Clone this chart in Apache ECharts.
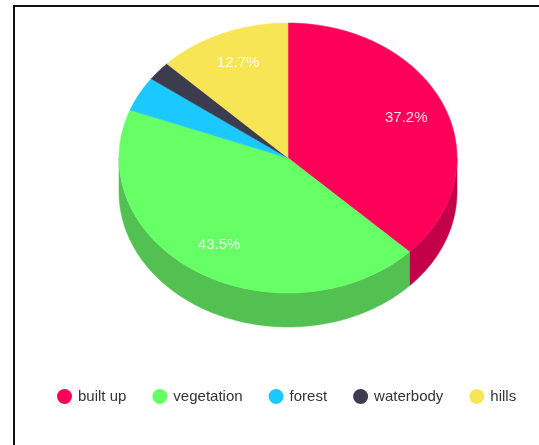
<!DOCTYPE html>
<html>
<head>
<meta charset="utf-8">
<style>html,body{margin:0;padding:0;background:#fff}#c{width:539px;height:445px}</style>
<script src="https://cdn.jsdelivr.net/npm/echarts@6/dist/echarts.min.js"></script>
</head>
<body>
<div id="c"></div>
<script>
const categories = ['built up', 'vegetation', 'forest', 'waterbody', 'hills'];
const shares = [37.2, 43.5, 4.2, 2.3, 12.7];
const labelled = [true, true, false, false, true];
const topColors = ['#FF0059', '#66FF66', '#1BC8FF', '#3D3C4E', '#F8E555'];
const sideColors = ['#C4004A', '#52C152', '#149AC4', '#2E2E3C', '#C0B240'];

const total = shares.reduce((a, b) => a + b, 0);
const CX = 288, CY = 158, RX = 169, RY = 135, DEPTH = 34;

function pt(deg, dy) {
  const a = deg * Math.PI / 180;
  return [CX + RX * Math.sin(a), CY - RY * Math.cos(a) + (dy || 0)];
}
function arc(from, to, dy) {
  const pts = [];
  const n = Math.max(2, Math.ceil(Math.abs(to - from)));
  for (let i = 0; i <= n; i++) pts.push(pt(from + (to - from) * i / n, dy));
  return pts;
}

const seriesList = categories.map(function (name, idx) {
  const before = shares.slice(0, idx).reduce((a, b) => a + b, 0);
  return {
    type: 'custom',
    name: name,
    coordinateSystem: 'none',
    animation: false,
    silent: true,
    itemStyle: { color: topColors[idx] },
    data: [[shares[idx]]],
    renderItem: function (params, api) {
      const value = api.value(0);
      const start = before / total * 360;
      const end = start + value / total * 360;
      const children = [];
      // visible side wall: front half only (90deg to 270deg)
      const s = Math.max(start, 90), e = Math.min(end, 270);
      if (e > s) {
        const upper = arc(s, e, 0);
        const lower = arc(e, s, DEPTH);
        children.push({
          type: 'polygon',
          shape: { points: upper.concat(lower) },
          style: { fill: sideColors[idx], stroke: sideColors[idx], lineWidth: 0.5 }
        });
      }
      children.push({
        type: 'polygon',
        shape: { points: [[CX, CY]].concat(arc(start, end, 0)) },
        style: { fill: topColors[idx], stroke: topColors[idx], lineWidth: 0.5 }
      });
      if (labelled[idx]) {
        const mid = (start + end) / 2;
        const a = mid * Math.PI / 180;
        children.push({
          type: 'text',
          x: CX + RX * 0.76 * Math.sin(a),
          y: CY - RY * 0.765 * Math.cos(a),
          style: {
            text: (value / total * 100).toFixed(1) + '%',
            fill: 'rgba(255,255,255,0.85)',
            font: '15px "Liberation Sans", Arial, sans-serif',
            align: 'center',
            verticalAlign: 'middle'
          }
        });
      }
      return { type: 'group', children: children };
    }
  };
});

const chart = echarts.init(document.getElementById('c'), null, { renderer: 'canvas' });
chart.setOption({
  backgroundColor: '#fff',
  animation: false,
  legend: {
    data: categories,
    left: 52,
    top: 384,
    icon: 'circle',
    itemWidth: 15,
    itemHeight: 15,
    itemGap: 26,
    textStyle: {
      color: '#333',
      fontSize: 15,
      fontFamily: '"Liberation Sans", Arial, sans-serif',
      padding: [0, 0, 0, 1]
    }
  },
  graphic: [
    { type: 'line', silent: true, shape: { x1: 13, y1: 6, x2: 539, y2: 6 }, style: { stroke: '#111', lineWidth: 2 } },
    { type: 'line', silent: true, shape: { x1: 14, y1: 5, x2: 14, y2: 445 }, style: { stroke: '#111', lineWidth: 2 } }
  ],
  series: seriesList
});
</script>
</body>
</html>
